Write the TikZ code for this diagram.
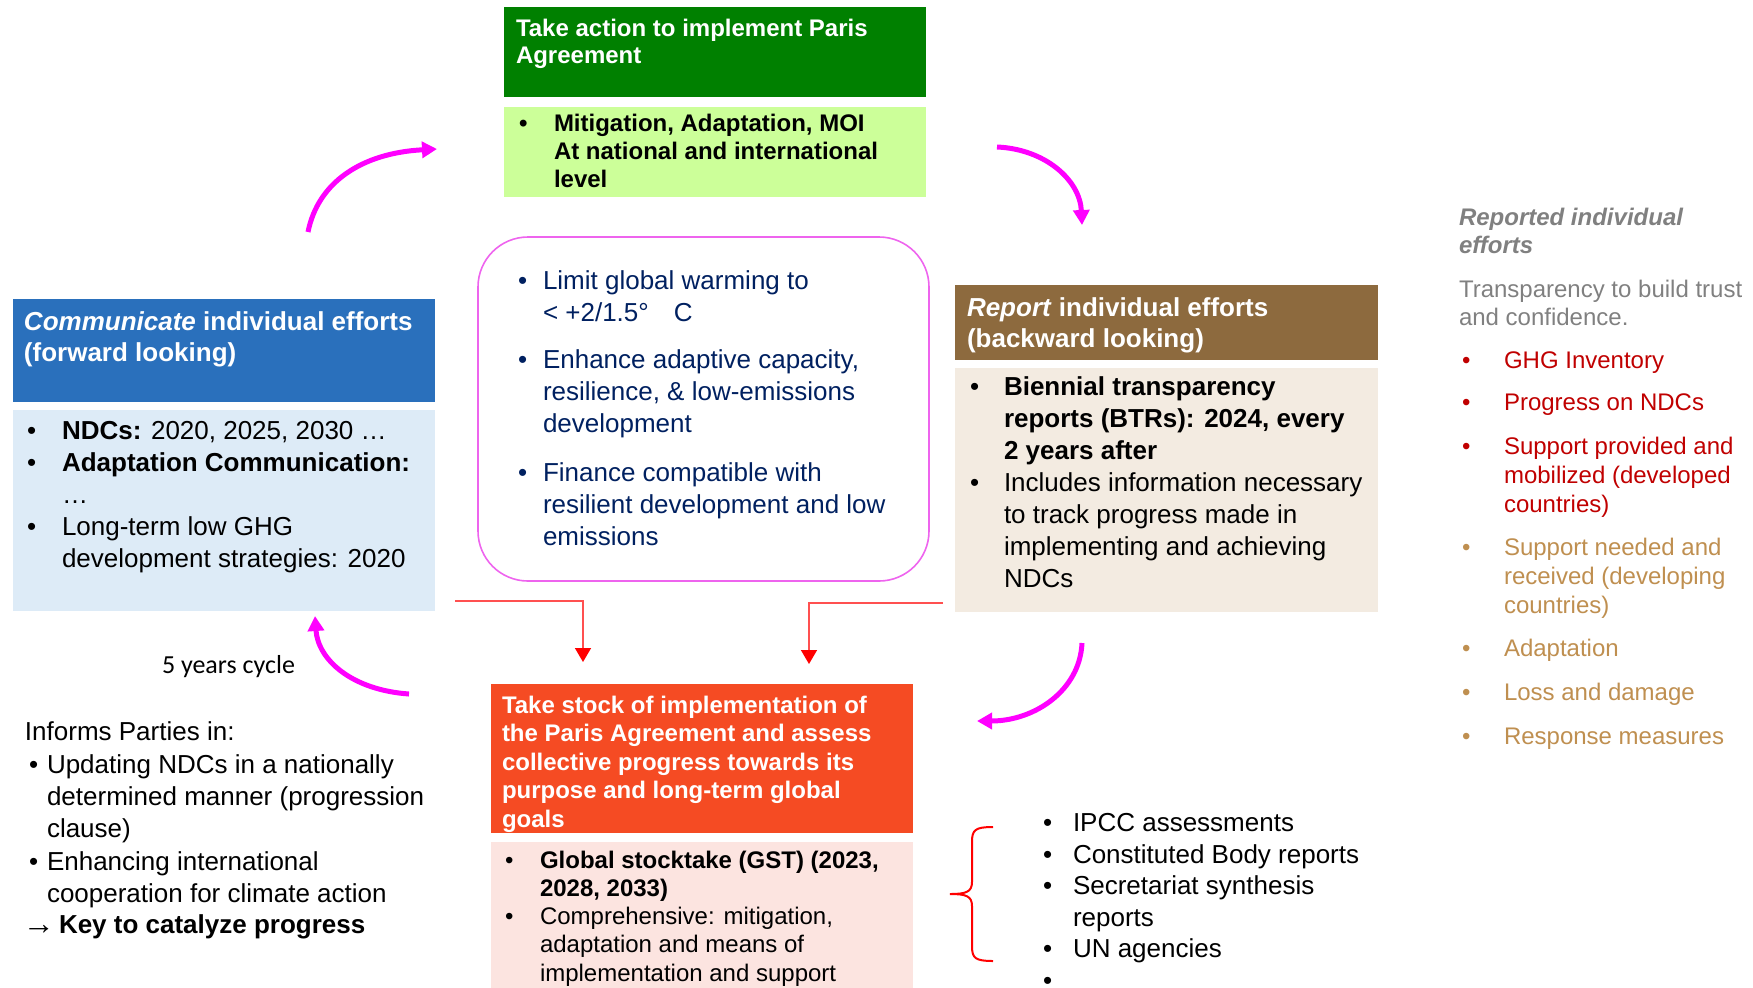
\documentclass[tikz,border=0pt]{standalone}
\usepackage{fontspec}
\setmainfont{Liberation Sans}
\newfontfamily\calfont{Carlito}
\usetikzlibrary{fit,arrows.meta}

\definecolor{greenH}{RGB}{0,128,0}
\definecolor{greenB}{RGB}{204,255,153}
\definecolor{blueH}{RGB}{42,112,188}
\definecolor{blueB}{RGB}{221,235,247}
\definecolor{brownH}{RGB}{141,106,62}
\definecolor{brownB}{RGB}{243,235,225}
\definecolor{orangeH}{RGB}{245,75,35}
\definecolor{orangeB}{RGB}{252,228,224}
\definecolor{navy}{RGB}{0,32,96}
\definecolor{ringc}{RGB}{238,100,238}
\definecolor{mag}{RGB}{255,0,255}
\definecolor{redline}{RGB}{255,80,80}
\definecolor{graytxt}{RGB}{128,128,128}
\definecolor{darkred}{RGB}{192,0,0}
\definecolor{tan}{RGB}{191,143,80}

% stacked lines whose baseline is that of the first line
\newcommand{\mlines}[1]{\begin{tabular}[t]{@{}l@{}}#1\end{tabular}}

\begin{document}
\begin{tikzpicture}[x=0.5pt,y=-0.5pt,
  panel/.style={inner sep=0pt, outer sep=0pt, draw=none},
  txt/.style={inner sep=0pt, outer sep=0pt, anchor=base west},
  headA/.style={txt, text=white, font=\fontsize{12}{13.5}\selectfont\bfseries},
  headB/.style={txt, text=white, font=\fontsize{13}{15.5}\selectfont\bfseries},
  headC/.style={txt, text=white, font=\fontsize{13}{15.5}\selectfont\bfseries},
  headD/.style={txt, text=white, font=\fontsize{12}{14.25}\selectfont\bfseries},
  bodyG/.style={txt, font=\fontsize{12}{14}\selectfont\bfseries},
  body13/.style={txt, font=\fontsize{13}{16}\selectfont},
  body12/.style={txt, font=\fontsize{12}{14.25}\selectfont},
  ringtxt/.style={txt, text=navy, font=\fontsize{13}{16}\selectfont},
  side/.style={txt, font=\fontsize{12}{14.5}\selectfont},
  magarrow/.style={draw=mag, line width=2.5pt, -{Triangle[length=7.5pt,width=8pt]}},
  redarrow/.style={draw=redline, line width=0.75pt, -{Triangle[length=7pt,width=8pt,color=red]}}
]
\useasboundingbox (0,0) rectangle (1753,987);

% ---------- boxes ----------
\node[panel, fit={(504,7) (926,97)}, fill=greenH] (actH) {};
\node[panel, fit={(504,107) (926,197)}, fill=greenB] (actB) {};
\node[panel, fit={(13,299) (435,402)}, fill=blueH] (comH) {};
\node[panel, fit={(13,410) (435,611)}, fill=blueB] (comB) {};
\node[panel, fit={(955,285) (1378,360)}, fill=brownH] (repH) {};
\node[panel, fit={(955,368) (1378,612)}, fill=brownB] (repB) {};
\node[panel, fit={(491,684) (913,833)}, fill=orangeH] (gstH) {};
\node[panel, fit={(491,842) (913,995)}, fill=orangeB] (gstB) {};
\draw[ringc, line width=0.8pt, rounded corners=25pt] (478,237) rectangle (929,581);

% ---------- take action ----------
\node[headA] (actT) at (516,36) {\mlines{Take action to implement Paris\\Agreement}};
\node[bodyG] (actb1) at (519,131) {•};
\node[bodyG] (actt1) at (554,131) {\mlines{Mitigation, Adaptation, MOI\\At national and international\\level}};

% ---------- communicate ----------
\node[headB] (comT) at (24,330) {\mlines{\textit{Communicate} individual efforts\\(forward looking)}};
\node[body13] (comb1) at (27,439) {•};
\node[body13] (comt1) at (62,439) {\textbf{NDCs:} 2020, 2025, 2030 …};
\node[body13] (comb2) at (27,471) {•};
\node[body13] (comt2) at (62,471) {\mlines{\textbf{Adaptation Communication:}\\…}};
\node[body13] (comb3) at (27,535) {•};
\node[body13] (comt3) at (62,535) {\mlines{Long-term low GHG\\development strategies: 2020}};

% ---------- goals ----------
\node[ringtxt] (gb1) at (518,289) {•};
\node[ringtxt] (gt1) at (543,289) {\mlines{Limit global warming to\\<~+2/1.5°\hspace{12.5pt}C}};
\node[ringtxt] (gb2) at (518,368) {•};
\node[ringtxt] (gt2) at (543,368) {\mlines{Enhance adaptive capacity,\\resilience, \& low-emissions\\development}};
\node[ringtxt] (gb3) at (518,481) {•};
\node[ringtxt] (gt3) at (543,481) {\mlines{Finance compatible with\\resilient development and low\\emissions}};

% ---------- report ----------
\node[headC] (repT) at (967,316) {\mlines{\textit{Report} individual efforts\\(backward looking)}};
\node[body13] (repb1) at (970,395) {•};
\node[body13] (rept1) at (1004,395) {\mlines{\textbf{Biennial transparency}\\\textbf{reports (BTRs): 2024, every}\\\textbf{2 years after}}};
\node[body13] (repb2) at (970,491) {•};
\node[body13] (rept2) at (1004,491) {\mlines{Includes information necessary\\to track progress made in\\implementing and achieving\\NDCs}};

% ---------- global stocktake ----------
\node[headD] (gstT) at (502,713) {\mlines{Take stock of implementation of\\the Paris Agreement and assess\\collective progress towards its\\purpose and long-term global\\goals}};
\node[body12] (gstb1) at (505,868) {•};
\node[body12] (gstt1) at (540,868) {\mlines{\textbf{Global stocktake (GST) (2023,}\\\textbf{2028, 2033)}}};
\node[body12] (gstb2) at (505,924) {•};
\node[body12] (gstt2) at (540,924) {\mlines{Comprehensive: mitigation,\\adaptation and means of\\implementation and support}};

% ---------- reported efforts (side column) ----------
\node[side, text=graytxt, font=\fontsize{12}{14}\selectfont\bfseries\itshape] (sideT) at (1459,225) {\mlines{Reported individual\\efforts}};
\node[side, text=graytxt, font=\fontsize{12}{14}\selectfont] (sideS) at (1459,297) {\mlines{Transparency to build trust\\and confidence.}};
\node[side, text=darkred] (sb1) at (1462,368) {•};
\node[side, text=darkred] (st1) at (1504,368) {GHG Inventory};
\node[side, text=darkred] (sb2) at (1462,410) {•};
\node[side, text=darkred] (st2) at (1504,410) {Progress on NDCs};
\node[side, text=darkred] (sb3) at (1462,454) {•};
\node[side, text=darkred] (st3) at (1504,454) {\mlines{Support provided and\\mobilized (developed\\countries)}};
\node[side, text=tan] (sb4) at (1462,555) {•};
\node[side, text=tan] (st4) at (1504,555) {\mlines{Support needed and\\received (developing\\countries)}};
\node[side, text=tan] (sb5) at (1462,656) {•};
\node[side, text=tan] (st5) at (1504,656) {Adaptation};
\node[side, text=tan] (sb6) at (1462,700) {•};
\node[side, text=tan] (st6) at (1504,700) {Loss and damage};
\node[side, text=tan] (sb7) at (1462,744) {•};
\node[side, text=tan] (st7) at (1504,744) {Response measures};

% ---------- informs parties ----------
\node[txt, font=\calfont\fontsize{13}{16}\selectfont] (cyc) at (162,673) {5 years cycle};
\node[body13] (inf) at (25,740) {Informs Parties in:};
\node[body13] (ib1) at (29,773) {•};
\node[body13] (it1) at (47,773) {\mlines{Updating NDCs in a nationally\\determined manner (progression\\clause)}};
\node[body13] (ib2) at (29,870) {•};
\node[body13] (it2) at (47,870) {\mlines{Enhancing international\\cooperation for climate action}};
\node[txt, font=\fontsize{16}{16}\selectfont] (karr) at (23,934) {→};
\node[body13] (ktxt) at (59,933) {\bfseries Key to catalyze progress};

% ---------- inputs ----------
\node[body13] (lb1) at (1043,831) {•};
\node[body13] (lt1) at (1073,831) {IPCC assessments};
\node[body13] (lb2) at (1043,863) {•};
\node[body13] (lt2) at (1073,863) {Constituted Body reports};
\node[body13] (lb3) at (1043,894) {•};
\node[body13] (lt3) at (1073,894) {\mlines{Secretariat synthesis\\reports}};
\node[body13] (lb4) at (1043,957) {•};
\node[body13] (lt4) at (1073,957) {UN agencies};
\node[body13] (lb5) at (1043,989) {•};

% brace gathering the inputs
\coordinate (brTop) at (993,827);
\coordinate (brTip) at (950,894);
\coordinate (brBot) at (993,961);
\draw[red, line width=1pt]
  (brTop) .. controls (975,827) and (972,830) .. (972,842)
  -- (972,882) .. controls (972,892) and (966,894) .. (brTip)
  .. controls (966,894) and (972,896) .. (972,906)
  -- (972,946) .. controls (972,958) and (975,961) .. (brBot);

% ---------- cycle arrows ----------
\coordinate (c1s) at (308,232); \coordinate (c1e) at (437,149);
\coordinate (c2s) at (997,147); \coordinate (c2e) at (1082,225);
\coordinate (c3s) at (1082,643); \coordinate (c3e) at (977,721);
\coordinate (c4s) at (409,694); \coordinate (c4e) at (315,616);
\draw[magarrow] (c1s) .. controls (318,182) and (362,153) .. (c1e);
\draw[magarrow] (c2s) .. controls (1045,149) and (1080,180) .. (c2e);
\draw[magarrow] (c3s) .. controls (1080,690) and (1035,721) .. (c3e);
\draw[magarrow] (c4s) .. controls (352,690) and (318,660) .. (c4e);

% ---------- feeds into the stocktake ----------
\coordinate (fL) at (455,601); \coordinate (fLe) at (583,662);
\coordinate (fR) at (943,603); \coordinate (fRe) at (809,664);
\draw[redarrow] (fL) -| (fLe);
\draw[redarrow] (fR) -| (fRe);
\end{tikzpicture}
\end{document}
